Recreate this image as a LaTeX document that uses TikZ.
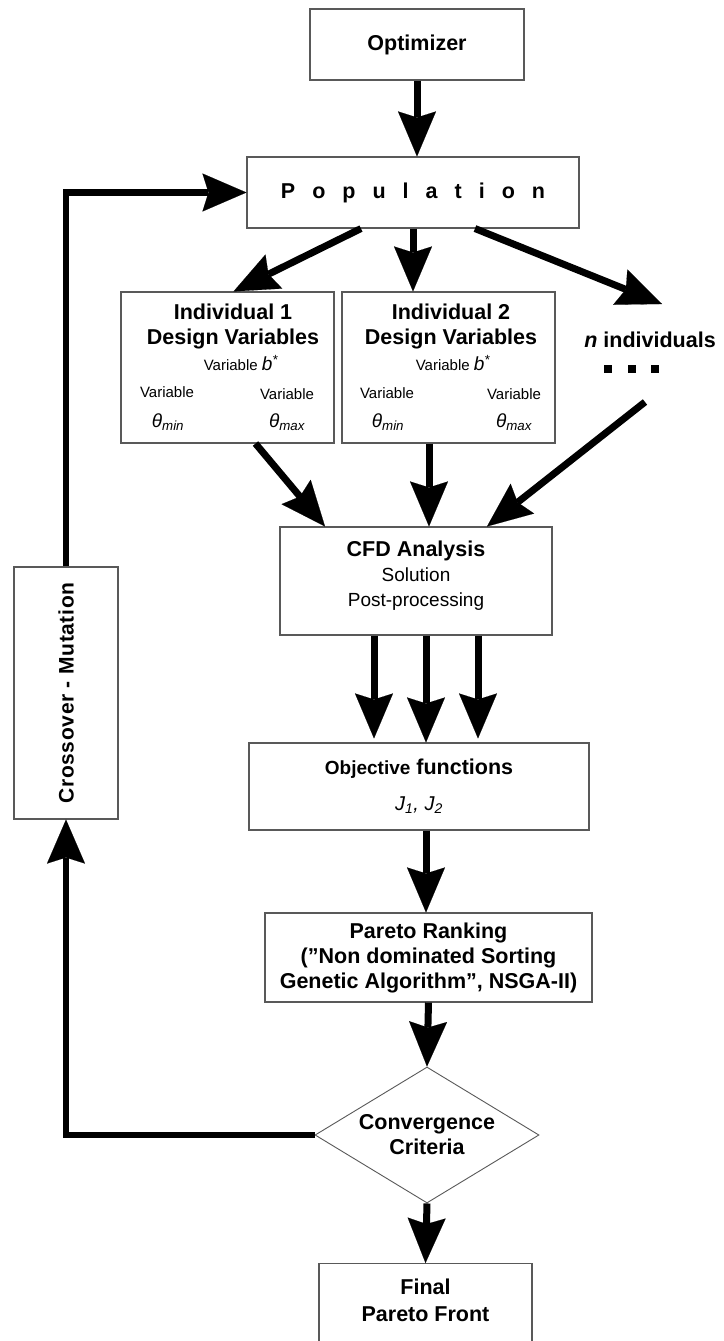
\documentclass[tikz,border=0pt]{standalone}
\usepackage{fontspec}
\setmainfont{Liberation Sans}
\usetikzlibrary{arrows.meta,shapes.geometric,calc}
\newcommand\bigbf{\fontsize{21.5}{25}\selectfont\bfseries}
\newcommand\regtext{\fontsize{19}{22.5}\selectfont\mdseries}
\newcommand\smalltext{\fontsize{15}{18}\selectfont\mdseries}
\newcommand\popword{P\kern17pt o\kern17pt p\kern17pt u\kern17pt l\kern17pt a\kern17pt t\kern17pt i\kern17pt o\kern17pt n}
\newcommand\bstar{{\fontsize{19}{20}\selectfont\itshape b\textsuperscript{*}}}
\newcommand\thmin{{\fontsize{19}{20}\selectfont\itshape θ\textsubscript{min}}}
\newcommand\thmax{{\fontsize{19}{20}\selectfont\itshape θ\textsubscript{max}}}
\tikzset{
  box/.style={draw=black!65, line width=1.1pt, fill=white, inner sep=0pt, align=center, font=\bigbf},
  lbl/.style={inner sep=0pt, align=center, font=\bigbf},
  small/.style={inner sep=0pt, align=center, font=\smalltext},
  arr/.style={line width=7pt, -{Stealth[length=45pt,width=38pt,inset=6pt,line width=0.1pt]}},
  fb/.style={line width=6.5pt, -{Stealth[length=44pt,width=38pt,inset=6pt,line width=0.1pt]}},
}
\begin{document}
\begin{tikzpicture}[x=1pt,y=-1pt]
\useasboundingbox (0,0) rectangle (723,1341);
\clip (0,0) rectangle (723,1341);
\fill[white] (0,0) rectangle (723,1341);

% boxes
\node[box, minimum width=214pt, minimum height=71pt] (opt) at (417,44.5) {Optimizer};
\node[box, minimum width=332pt, minimum height=71pt] (pop) at (413,192.5) {\popword};
\node[box, minimum width=213pt, minimum height=151pt] (ind1) at (227.5,367.5) {};
\node[box, minimum width=213pt, minimum height=151pt] (ind2) at (448.5,367.5) {};
\node[box, minimum width=272pt, minimum height=108pt] (cfd) at (416,581)
  {CFD Analysis\\{\regtext Solution}\\{\regtext Post-processing}\rule[-14pt]{0pt}{0pt}};
\node[box, minimum width=340pt, minimum height=87pt] (obj) at (419,786.5)
  {{\fontsize{19}{25}\selectfont Objective} functions\\[11pt]{\fontsize{20}{22}\selectfont\mdseries\itshape J\textsubscript{1}, J\textsubscript{2}}};
\node[box, minimum width=327pt, minimum height=89pt] (par) at (428.5,957.5)
  {Pareto Ranking\\(”Non dominated Sorting\\Genetic Algorithm”, NSGA-II)};
\node[draw=black!65, line width=0.9pt, fill=white, diamond, shape aspect=1.65, inner sep=0pt,
  minimum width=224pt, minimum height=136pt, align=center, font=\bigbf] (dia) at (427,1135)
  {Convergence\\Criteria};
\node[box, anchor=north, minimum width=213pt, inner ysep=15pt, font=\fontsize{21.5}{27}\selectfont\bfseries] (fin) at (425.5,1263)
  {Final\\Pareto Front\rule[-70pt]{0pt}{0pt}};
\node[box, rotate=90, minimum width=252pt, minimum height=104pt,
  font=\fontsize{21}{25}\selectfont\bfseries\addfontfeatures{LetterSpace=3}] (cross) at (66,693) {Crossover - Mutation};

% individual texts
\node[lbl] (i1t) at (233,326.5) {Individual 1\\Design Variables};
\node[small] (i1b) at (241,363) {Variable \bstar};
\node[small] (i1vl) at (167,392) {Variable};
\node[small] (i1vr) at (287,394) {Variable};
\node[small] (i1tl) at (168,422) {\thmin};
\node[small] (i1tr) at (287,422) {\thmax};
\node[lbl] (i2t) at (451,326.5) {Individual 2\\Design Variables};
\node[small] (i2b) at (453,363) {Variable \bstar};
\node[small] (i2vl) at (387,393) {Variable};
\node[small] (i2vr) at (514,394) {Variable};
\node[small] (i2tl) at (388,422) {\thmin};
\node[small] (i2tr) at (514,422) {\thmax};

% n individuals
\node[lbl] (nind) at (650,340) {\textit{n} individuals};
\fill (604,365) rectangle +(8,8);
\fill (628,365) rectangle +(8,8);
\fill (651,365) rectangle +(8,8);
\coordinate (ntop) at (662,304);
\coordinate (nbot) at (645,402);

% arrows
\draw[arr] (opt.south) -- ([xshift=4pt]pop.north);
\draw[arr] ([xshift=-52pt]pop.south) -- ([xshift=6pt]ind1.north);
\draw[arr] (pop.south) -- (pop.south |- ind2.north);
\draw[arr] ([xshift=62pt]pop.south) -- (ntop);
\draw[arr] ([xshift=28pt]ind1.south) -- ([xshift=-91pt]cfd.north);
\draw[arr] ([xshift=-19.5pt]ind2.south) -- ([xshift=13pt]cfd.north);
\draw[arr] (nbot) -- ([xshift=71pt]cfd.north);
\draw[arr, shorten >=4pt] ([xshift=-42pt]cfd.south) -- ([xshift=-45pt]obj.north);
\draw[arr] ([xshift=10pt]cfd.south) -- ([xshift=7pt]obj.north);
\draw[arr, shorten >=4pt] ([xshift=62pt]cfd.south) -- ([xshift=59pt]obj.north);
\draw[arr] ([xshift=7pt]obj.south) -- ([xshift=-2.5pt]par.north);
\draw[arr] (par.south) -- (dia.north);
\draw[arr] (dia.south) -- (fin.north);
\draw[fb] (cross.east) |- (pop.west);
\draw[fb] (dia.west) -| (cross.west);
\end{tikzpicture}
\end{document}
